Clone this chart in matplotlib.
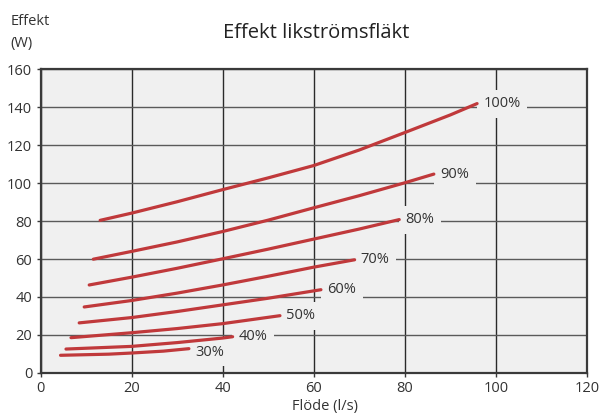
import matplotlib
matplotlib.use("Agg")
import matplotlib.pyplot as plt

# Läst ur bilden: flöde (l/s) och effekt (W) per styrsignal
flode_100 = [13.1, 20, 30, 40, 50, 60, 70, 80, 90, 95.9]
effekt_100 = [80.4, 84.2, 90.2, 96.6, 102.8, 109.3, 117.5, 126.7, 136.0, 142.0]
flode_90 = [11.6, 20, 30, 40, 50, 60, 70, 80, 86.4]
effekt_90 = [59.9, 64.0, 69.0, 74.5, 80.5, 87.0, 93.4, 100.2, 104.8]
flode_80 = [10.7, 20, 30, 40, 50, 60, 70, 78.8]
effekt_80 = [46.3, 50.4, 55.1, 60.1, 65.2, 70.5, 75.8, 80.8]
flode_70 = [9.6, 20, 30, 40, 50, 60, 69.0]
effekt_70 = [34.7, 38.1, 42.0, 46.3, 50.9, 55.7, 59.6]
flode_60 = [8.5, 20, 30, 40, 50, 61.6]
effekt_60 = [26.3, 29.1, 32.3, 35.8, 39.3, 43.8]
flode_50 = [6.7, 20, 30, 40, 52.6]
effekt_50 = [18.5, 21.1, 23.3, 25.9, 30.1]
flode_40 = [5.6, 20, 30, 40, 42.2]
effekt_40 = [12.5, 13.9, 15.9, 18.3, 19.0]
flode_30 = [4.4, 15, 20, 27, 32.6]
effekt_30 = [9.2, 9.8, 10.4, 11.4, 12.7]

etiketter = ["100%", "90%", "80%", "70%", "60%", "50%", "40%", "30%"]
serier = [(flode_100, effekt_100), (flode_90, effekt_90), (flode_80, effekt_80),
          (flode_70, effekt_70), (flode_60, effekt_60), (flode_50, effekt_50),
          (flode_40, effekt_40), (flode_30, effekt_30)]

C_BG = "#f0f0f0"
C_LINJE = "#c0393b"
C_TEXT = "#333333"

plt.rcParams["font.family"] = ["Open Sans", "DejaVu Sans"]

fig = plt.figure(figsize=(6.0, 4.16), dpi=100, facecolor="white")
ax = fig.add_axes([0.0675, 0.104, 0.9105, 0.729])
ax.set_facecolor(C_BG)
ax.set_xlim(0, 120)
ax.set_ylim(0, 160)
ax.set_xticks(range(0, 121, 20))
ax.set_yticks(range(0, 161, 20))
ax.set_axisbelow(True)
ax.grid(axis="y", color="#5a5a5a", linewidth=1.0)
ax.grid(axis="x", color="#2a2a2a", linewidth=1.0)

for sp in ax.spines.values():
    sp.set_color("#3a3a3a")
    sp.set_linewidth(1.6)
ax.tick_params(colors=C_TEXT, labelsize=10.5, length=3, width=1.0,
               color="#3a3a3a", pad=3)

for (fx, ey), lab in zip(serier, etiketter):
    ax.plot(fx, ey, color=C_LINJE, linewidth=2.3, solid_capstyle="round",
            zorder=3)
    dy = -2.5 if lab == "30%" else 0
    ax.annotate(lab, xy=(fx[-1], ey[-1]), xytext=(4.5, dy),
                textcoords="offset points", ha="left", va="center",
                fontsize=10.5, color=C_TEXT, zorder=1.5,
                bbox=dict(boxstyle="square,pad=0.45", fc=C_BG, ec="none"))

fig.text(0.527, 0.921, "Effekt likströmsfläkt", ha="center", va="center",
         fontsize=14.5, color="#222222")
fig.text(0.017, 0.948, "Effekt", ha="left", va="center", fontsize=10.5,
         color=C_TEXT)
fig.text(0.017, 0.896, "(W)", ha="left", va="center", fontsize=10.5,
         color=C_TEXT)
fig.text(0.542, 0.022, "Flöde (l/s)", ha="center", va="center",
         fontsize=10.5, color=C_TEXT)

fig.savefig("out.png", dpi=100, facecolor=fig.get_facecolor())
